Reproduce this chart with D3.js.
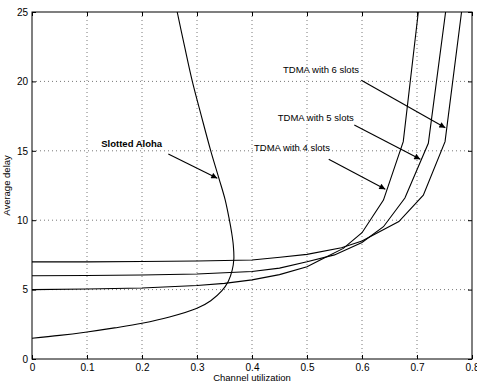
<!DOCTYPE html>
<html>
<head>
<meta charset="utf-8">
<script src="https://cdn.jsdelivr.net/npm/d3@7/dist/d3.min.js"></script>
<style>
  html, body { margin: 0; padding: 0; background: #fff; }
  svg { display: block; font-family: "Liberation Sans", Arial, sans-serif; }
</style>
</head>
<body>
<div id="chart"></div>
<script>
// tick values
const xTicks = [0, 0.1, 0.2, 0.3, 0.4, 0.5, 0.6, 0.7, 0.8];
const yTicks = [0, 5, 10, 15, 20, 25];

// Slotted Aloha (utilization, delay)
const alohaX = [0, 0.05, 0.1, 0.15, 0.2, 0.25, 0.3, 0.325, 0.345, 0.357, 0.364, 0.367, 0.366, 0.363, 0.358, 0.351, 0.34, 0.325, 0.308, 0.2915, 0.2775, 0.264];
const alohaY = [1.5, 1.7, 1.95, 2.24, 2.57, 3.02, 3.65, 4.2, 4.9, 5.6, 6.4, 7.2, 8.2, 9.1, 10.2, 11.5, 13.0, 15, 17.5, 20, 22.5, 25];

// TDMA curves
const tdma4X = [0, 0.1, 0.2, 0.3, 0.35, 0.4, 0.45, 0.5, 0.524, 0.566, 0.6, 0.639, 0.675, 0.7024];
const tdma4Y = [5.0, 5.04, 5.12, 5.3, 5.45, 5.7, 6.08, 6.65, 7.13, 7.97, 9.1, 11.45, 15.66, 25];
const tdma5X = [0, 0.1, 0.2, 0.3, 0.4, 0.45, 0.5, 0.55, 0.6, 0.639, 0.678, 0.7206, 0.752];
const tdma5Y = [6.0, 6.02, 6.05, 6.12, 6.3, 6.55, 7.0, 7.5, 8.4, 9.53, 11.6, 15.54, 25];
const tdma6X = [0, 0.1, 0.2, 0.3, 0.4, 0.451, 0.5, 0.5627, 0.6, 0.667, 0.7115, 0.751, 0.781];
const tdma6Y = [7.0, 7.0, 7.02, 7.06, 7.13, 7.33, 7.54, 8.02, 8.5, 9.9, 11.8, 15.66, 25];

// annotations: label, label position, arrow start, arrow end (data units)
const notes = [
  { text: 'Slotted Aloha', bold: true, lx: 0.1813, ly: 15.3, x1: 0.2478, y1: 14.77, x2: 0.3369, y2: 13.02 },
  { text: 'TDMA with 6 slots', bold: false, lx: 0.5255, ly: 20.6, x1: 0.5987, y1: 20.08, x2: 0.7515, y2: 16.66 },
  { text: 'TDMA with 5 slots', bold: false, lx: 0.516, ly: 17.15, x1: 0.586, y1: 16.86, x2: 0.706, y2: 14.39 },
  { text: 'TDMA with 4 slots', bold: false, lx: 0.4727, ly: 15.0, x1: 0.5395, y1: 14.39, x2: 0.6424, y2: 12.23 }
];

const totalW = 477, totalH = 385;
const margin = { top: 12, right: 5, bottom: 26, left: 32 };
const width = totalW - margin.left - margin.right;
const height = totalH - margin.top - margin.bottom;

const svg = d3.select('#chart').append('svg')
  .attr('width', totalW)
  .attr('height', totalH);

const defs = svg.append('defs');
defs.append('clipPath').attr('id', 'clip')
  .append('rect').attr('width', width).attr('height', height);
defs.append('marker')
  .attr('id', 'head')
  .attr('viewBox', '0 0 10 10')
  .attr('refX', 10).attr('refY', 5)
  .attr('markerWidth', 8).attr('markerHeight', 6)
  .attr('markerUnits', 'userSpaceOnUse')
  .attr('orient', 'auto')
  .append('path').attr('d', 'M0,0 L10,5 L0,10 z').attr('fill', '#000');

const g = svg.append('g')
  .attr('transform', 'translate(' + margin.left + ',' + margin.top + ')');

const x = d3.scaleLinear().domain([0, 0.8]).range([0, width]);
const y = d3.scaleLinear().domain([0, 25]).range([height, 0]);

// grid
g.append('g').selectAll('line').data(xTicks.slice(1, -1)).enter().append('line')
  .attr('x1', d => x(d)).attr('x2', d => x(d))
  .attr('y1', 0).attr('y2', height)
  .attr('stroke', '#555').attr('stroke-width', 0.8).attr('stroke-dasharray', '1,3');
g.append('g').selectAll('line').data(yTicks.slice(1, -1)).enter().append('line')
  .attr('y1', d => y(d)).attr('y2', d => y(d))
  .attr('x1', 0).attr('x2', width)
  .attr('stroke', '#555').attr('stroke-width', 0.8).attr('stroke-dasharray', '1,3');

// axes, ticks pointing inwards
function styleAxis(sel) {
  sel.select('.domain').remove();
  sel.selectAll('line').attr('stroke', '#000');
  sel.selectAll('text').attr('fill', '#000').style('font-size', '10px');
}
g.append('g').attr('transform', 'translate(0,' + height + ')')
  .call(d3.axisBottom(x).tickValues(xTicks).tickSizeInner(-4).tickSizeOuter(0).tickPadding(5).tickFormat(d3.format('')))
  .call(styleAxis);
g.append('g')
  .call(d3.axisTop(x).tickValues(xTicks).tickSizeInner(-4).tickSizeOuter(0).tickFormat(''))
  .call(styleAxis);
g.append('g')
  .call(d3.axisLeft(y).tickValues(yTicks).tickSizeInner(-4).tickSizeOuter(0).tickPadding(4))
  .call(styleAxis);
g.append('g').attr('transform', 'translate(' + width + ',0)')
  .call(d3.axisRight(y).tickValues(yTicks).tickSizeInner(-4).tickSizeOuter(0).tickFormat(''))
  .call(styleAxis);

g.append('rect')
  .attr('width', width).attr('height', height)
  .attr('fill', 'none').attr('stroke', '#000').attr('stroke-width', 1);

// curves
const plot = g.append('g').attr('clip-path', 'url(#clip)');
const lin = d3.line().x(d => x(d[0])).y(d => y(d[1]));
const smooth = d3.line().x(d => x(d[0])).y(d => y(d[1])).curve(d3.curveCatmullRom.alpha(0.5));

plot.append('path')
  .datum(alohaX.map((v, i) => [v, alohaY[i]]))
  .attr('d', smooth)
  .attr('fill', 'none').attr('stroke', '#000').attr('stroke-width', 1.1);

[[tdma4X, tdma4Y], [tdma5X, tdma5Y], [tdma6X, tdma6Y]].forEach(function(s) {
  plot.append('path')
    .datum(s[0].map((v, i) => [v, s[1][i]]))
    .attr('d', lin)
    .attr('fill', 'none').attr('stroke', '#000').attr('stroke-width', 1.1);
});

// annotations
notes.forEach(function(n) {
  g.append('line')
    .attr('x1', x(n.x1)).attr('y1', y(n.y1))
    .attr('x2', x(n.x2)).attr('y2', y(n.y2))
    .attr('stroke', '#000').attr('stroke-width', 1.1)
    .attr('marker-end', 'url(#head)');
  g.append('text')
    .attr('x', x(n.lx)).attr('y', y(n.ly))
    .attr('text-anchor', 'middle')
    .style('font-size', '9.5px')
    .style('font-weight', n.bold ? 'bold' : 'normal')
    .text(n.text);
});

// axis titles
svg.append('text')
  .attr('x', margin.left + width / 2).attr('y', totalH - 4)
  .attr('text-anchor', 'middle')
  .style('font-size', '9.5px')
  .text('Channel utilization');
svg.append('text')
  .attr('transform', 'translate(10,' + (margin.top + height / 2) + ') rotate(-90)')
  .attr('text-anchor', 'middle')
  .style('font-size', '9.5px')
  .text('Average delay');
</script>
</body>
</html>
